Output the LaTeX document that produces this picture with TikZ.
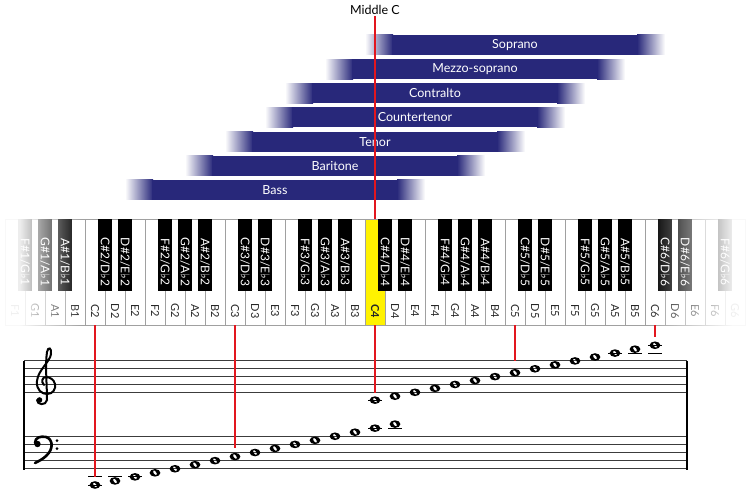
\documentclass[tikz,border=0pt]{standalone}
\usepackage{fontspec}
\setmainfont{Lato}
\newfontfamily\symfont{DejaVu Sans}
\usetikzlibrary{fadings}
\definecolor{voicebar}{RGB}{40,40,122}
\definecolor{cline}{RGB}{226,22,30}
\definecolor{keyedge}{RGB}{160,160,160}
\definecolor{staffgray}{RGB}{60,60,60}
\newcommand\fl{{\symfont\char"266D}}
\tikzfading[name=fadeleft, left color=transparent!0, right color=transparent!100]
\tikzfading[name=faderight, left color=transparent!100, right color=transparent!0]
\tikzset{
  redline/.style={cline, line width=2.3pt},
  wkey/.style={draw=keyedge, line width=0.6pt},
  bkey/.style={fill=black},
  wlab/.style={rotate=-90, text=black!85, font=\fontsize{11}{12}\selectfont, inner sep=0pt},
  blab/.style={rotate=-90, text=white, font=\fontsize{12}{13}\selectfont, inner sep=0pt},
  barlab/.style={text=white, font=\fontsize{12.5}{14}\selectfont, inner sep=0pt},
  staffline/.style={staffgray, line width=0.9pt},
  ledger/.style={black, line width=0.9pt},
  barline/.style={black, line width=2.6pt},
  clefline/.style={black, line width=2pt, line cap=round},
  wnote/.pic={\fill[even odd rule] (0,0) ellipse (5.4 and 3.8) [rotate=35] (0,0) ellipse (1.4 and 2.6);}
}
\newcommand\blackkey[2]{%
  \fill[bkey] ({5+20*#1-7},219) rectangle ++(14,72);
  \node[blab] (b#1) at ({5+20*#1},262) {#2};}

\begin{document}
\begin{tikzpicture}[x=1pt,y=-1pt]
\useasboundingbox (0,0) rectangle (753,495);
% voice ranges
\foreach \L/\r/\v in {365/0/Soprano,325/1/Mezzo-soprano,285/2/Contralto,265/3/Countertenor,225/4/Tenor,185/5/Baritone,125/6/Bass}{
  \pgfmathsetmacro\t{35+24.15*\r}
  \shade[left color=white, right color=voicebar] (\L,\t) rectangle ++(28,20);
  \fill[voicebar] ({\L+27},\t) rectangle ({\L+273},{\t+20});
  \shade[left color=voicebar, right color=white] ({\L+272},\t) rectangle ++(28,20);
  \node[barlab] (v\r) at ({\L+150},{\t+10}) {\v};
}
\node[font=\fontsize{12.5}{14}\selectfont, inner sep=1pt] (midc) at (375,10) {Middle C};
% keyboard
\foreach \n [count=\i from 0] in {F1,G1,A1,B1,C2,D2,E2,F2,G2,A2,B2,C3,D3,E3,F3,G3,A3,B3,C4,D4,E4,F4,G4,A4,B4,C5,D5,E5,F5,G5,A5,B5,C6,D6,E6,F6,G6}{
  \ifnum\i=18 \def\kf{yellow}\def\kw{\bfseries}\else\def\kf{white}\def\kw{}\fi
  \draw[wkey, fill=\kf] ({5+20*\i},219) rectangle ++(20,106);
  \node[wlab] (w\i) at ({15+20*\i},311) {\kw\n};
  \coordinate (kt\i) at ({15+20*\i},219);
  \coordinate (kb\i) at ({15+20*\i},325);
}
\draw[redline] (midc) -- (kt18);
\blackkey{1}{F\#1/G\fl1}
\blackkey{2}{G\#1/A\fl1}
\blackkey{3}{A\#1/B\fl1}
\foreach \o in {2,...,5}{
  \pgfmathtruncatemacro\c{4+7*(\o-2)}
  \foreach \d/\s/\f in {1/C/D,2/D/E,4/F/G,5/G/A,6/A/B}{
    \pgfmathtruncatemacro\k{\c+\d}
    \blackkey{\k}{\s\#\o/\f\fl\o}
  }
}
\blackkey{33}{C\#6/D\fl6}
\blackkey{34}{D\#6/E\fl6}
\blackkey{36}{F\#6/G\fl6}
\fill[white, fill opacity=0.93] (0,216) rectangle (20,327);
\fill[white, fill opacity=0.93, path fading=fadeleft] (20,216) rectangle (82,327);
\fill[white, fill opacity=0.93, path fading=faderight] (650,216) rectangle (732,327);
\fill[white, fill opacity=0.93] (732,216) rectangle (753,327);
% staves
\foreach \s in {4,6,...,12}
  \draw[staffline] (24,{485-4.06*\s}) -- (687,{485-4.06*\s});
\foreach \s in {16,18,...,24}
  \draw[staffline] (24,{392.3-3.92*(\s-16)}) -- (687,{392.3-3.92*(\s-16)});
\draw[barline] (24,360.5) -- (24,469.6);
\draw[barline] (687,360.5) -- (687,469.6);
% clefs
\draw[clefline] (37,400) .. controls (37,405) and (46,406) .. (47,400)
  .. controls (47,385) and (45,365) .. (47,352)
  .. controls (48,346) and (52,348) .. (51,354)
  .. controls (50,362) and (38,370) .. (37,381)
  .. controls (36,390) and (42,394) .. (47,394)
  .. controls (53,394) and (56,389) .. (55,384)
  .. controls (54,379) and (49,377) .. (46,377)
  .. controls (42,377) and (41,382) .. (44,385);
\fill (39.5,400) circle (2.8);
\fill (37.5,444) circle (3.2);
\draw[clefline, line width=2.6pt] (35,443) .. controls (35,437) and (41,436) .. (46,437)
  .. controls (53,439) and (54,449) .. (46,456)
  .. controls (43,459) and (39,461) .. (35,463);
\fill (57,440.5) circle (1.5);
\fill (57,448.5) circle (1.5);
% notes
\foreach \s/\l in {0/0,0/2,1/2,2/2,14/14,15/14}
  \draw[ledger] ({88+20*\s},{485-4.06*\l}) -- ++(14,0);
\foreach \s/\l in {14/14,26/26,27/26,28/26,28/28}
  \draw[ledger] ({88+20*\s},{392.3-3.92*(\l-16)}) -- ++(14,0);
\foreach \s in {0,...,15}{
  \coordinate (lo\s) at ({95+20*\s},{485-4.06*\s});
  \pic at (lo\s) {wnote};
}
\foreach \s in {14,...,28}{
  \coordinate (hi\s) at ({95+20*\s},{392.3-3.92*(\s-16)});
  \pic at (hi\s) {wnote};
}
\draw[redline, shorten >=8pt] (kb4) -- (lo0);
\draw[redline, shorten >=8.6pt] (kb11) -- (lo7);
\draw[redline, shorten >=7pt] (kb18) -- (hi14);
\draw[redline, shorten >=11.7pt] (kb25) -- (hi21);
\draw[redline, shorten >=8.5pt] (kb32) -- (hi28);
\end{tikzpicture}
\end{document}
